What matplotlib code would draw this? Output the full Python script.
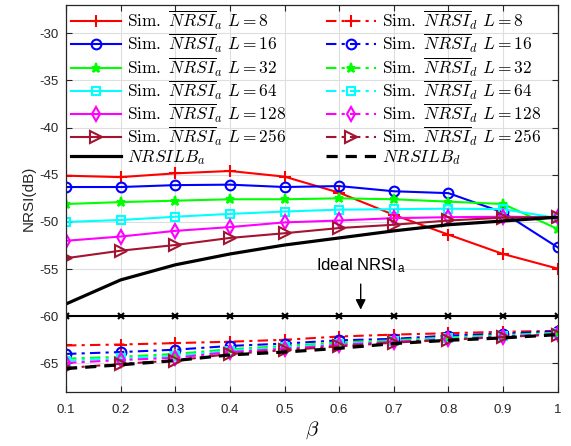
import numpy as np
import matplotlib
matplotlib.use("Agg")
import matplotlib.pyplot as plt

plt.rcParams['mathtext.fontset'] = 'cm'
plt.rcParams['font.family'] = ['Liberation Sans', 'DejaVu Sans']
plt.rcParams['axes.unicode_minus'] = False

beta = [0.1, 0.2, 0.3, 0.4, 0.5, 0.6, 0.7, 0.8, 0.9, 1.0]
L_values = [8, 16, 32, 64, 128, 256]

# Simulated NRSI_a (dB)
nrsi_a_8   = [-45.1, -45.25, -44.85, -44.6, -45.2, -46.9, -49.25, -51.35, -53.4, -54.95]
nrsi_a_16  = [-46.3, -46.3, -46.1, -46.05, -46.3, -46.2, -46.75, -46.95, -49.0, -52.7]
nrsi_a_32  = [-48.1, -47.9, -47.75, -47.6, -47.6, -47.5, -47.6, -47.85, -48.1, -50.75]
nrsi_a_64  = [-50.0, -49.8, -49.45, -49.15, -48.9, -48.7, -48.65, -48.6, -48.65, -49.6]
nrsi_a_128 = [-52.0, -51.55, -50.95, -50.55, -50.05, -49.85, -49.6, -49.5, -49.45, -49.5]
nrsi_a_256 = [-53.85, -53.05, -52.45, -51.7, -51.2, -50.65, -50.3, -49.85, -49.55, -49.5]
nrsilb_a   = [-58.7, -56.15, -54.55, -53.4, -52.45, -51.7, -50.95, -50.3, -49.9, -49.5]
ideal_a    = [-60.0] * 10

# Simulated NRSI_d (dB)
nrsi_d_8   = [-63.1, -63.0, -62.85, -62.7, -62.5, -62.15, -61.95, -61.8, -61.65, -61.55]
nrsi_d_16  = [-64.0, -63.8, -63.55, -63.15, -62.9, -62.55, -62.4, -62.05, -61.85, -61.6]
nrsi_d_32  = [-64.5, -64.3, -64.0, -63.5, -63.15, -62.8, -62.55, -62.25, -62.0, -61.75]
nrsi_d_64  = [-64.7, -64.45, -64.2, -63.65, -63.3, -62.95, -62.65, -62.35, -62.1, -61.8]
nrsi_d_128 = [-64.95, -64.65, -64.4, -63.8, -63.45, -63.05, -62.7, -62.45, -62.15, -61.9]
nrsi_d_256 = [-65.5, -65.05, -64.7, -64.0, -63.6, -63.2, -62.8, -62.5, -62.2, -61.95]
nrsilb_d   = [-65.55, -65.15, -64.7, -64.1, -63.8, -63.4, -62.9, -62.55, -62.3, -61.95]

series_a = [nrsi_a_8, nrsi_a_16, nrsi_a_32, nrsi_a_64, nrsi_a_128, nrsi_a_256]
series_d = [nrsi_d_8, nrsi_d_16, nrsi_d_32, nrsi_d_64, nrsi_d_128, nrsi_d_256]

colors = ['#ff0000', '#0000ff', '#00ff00', '#00ffff', '#ff00ff', '#a2142f']
markers = ['+', 'o', '*', 's', 'd', '>']
msizes = [8, 7, 6.5, 6, 7, 8]

fig = plt.figure(figsize=(5.71, 4.46), dpi=100)
ax = fig.add_axes([0.1156, 0.1218, 0.8611, 0.867])

h_a = []
h_d = []
for ya, c, m, ms, L in zip(series_a, colors, markers, msizes, L_values):
    h, = ax.plot(beta, ya, color=c, marker=m, ms=ms, mfc='none' if m not in ('*', '+') else c,
                 mew=1.5, lw=1.5, label=r'$\mathrm{Sim.}\ \overline{NRSI}_a\ L=%d$' % L)
    h_a.append(h)
for yd, c, m, ms, L in zip(series_d, colors, markers, msizes, L_values):
    h, = ax.plot(beta, yd, color=c, marker=m, ms=ms, mfc='none' if m not in ('*', '+') else c,
                 mew=1.5, lw=1.5, ls=(0, (5, 2.5, 1.5, 2.5)),
                 label=r'$\mathrm{Sim.}\ \overline{NRSI}_d\ L=%d$' % L)
    h_d.append(h)

hlb_a, = ax.plot(beta, nrsilb_a, color='k', lw=2.3, label=r'$NRSILB_a$')
hlb_d, = ax.plot(beta, nrsilb_d, color='k', lw=2.3, ls=(0, (3.5, 2.5)), label=r'$NRSILB_d$')
ax.plot(beta, ideal_a, color='k', lw=1.5, marker='x', ms=4, mew=1.5)
h_a.append(hlb_a)
h_d.append(hlb_d)

ax.set_xlim(0.1, 1.0)
ax.set_ylim(-68, -27)
ax.set_xticks([0.1, 0.2, 0.3, 0.4, 0.5, 0.6, 0.7, 0.8, 0.9, 1.0])
ax.set_xticklabels(['0.1', '0.2', '0.3', '0.4', '0.5', '0.6', '0.7', '0.8', '0.9', '1'])
ax.set_yticks([-65, -60, -55, -50, -45, -40, -35, -30])
ax.grid(True, color='#dedede', lw=0.8)
ax.set_axisbelow(True)
ax.tick_params(direction='in', top=True, right=True, labelsize=9.5, colors='#262626',
               length=4)
ax.tick_params(axis='x', pad=9)
ax.tick_params(axis='y', pad=5)
for s in ax.spines.values():
    s.set_color('#262626')
    s.set_linewidth(0.9)

ax.set_xlabel(r'$\beta$', fontsize=15, labelpad=2)
ax.set_ylabel('NRSI(dB)', fontsize=11, color='#262626', labelpad=3)

leg_kw = dict(loc='upper left', frameon=False, fontsize=12.5, handlelength=2.9,
              handletextpad=0.35, labelspacing=0.0, borderpad=0.0, borderaxespad=0.0)
leg1 = ax.legend(handles=h_a, bbox_to_anchor=(0.01, 0.99), **leg_kw)
ax.add_artist(leg1)
leg2 = ax.legend(handles=h_d, bbox_to_anchor=(0.528, 0.99), **leg_kw)

ax.annotate('', xy=(0.6394, -59.6), xytext=(0.6394, -56.3),
            arrowprops=dict(arrowstyle='-|>', color='k', lw=1.0, mutation_scale=15))
ax.text(0.5576, -55.1, r'Ideal NRSI$_\mathregular{a}$', fontsize=12, color='k')

fig.savefig('out.png', dpi=100)
